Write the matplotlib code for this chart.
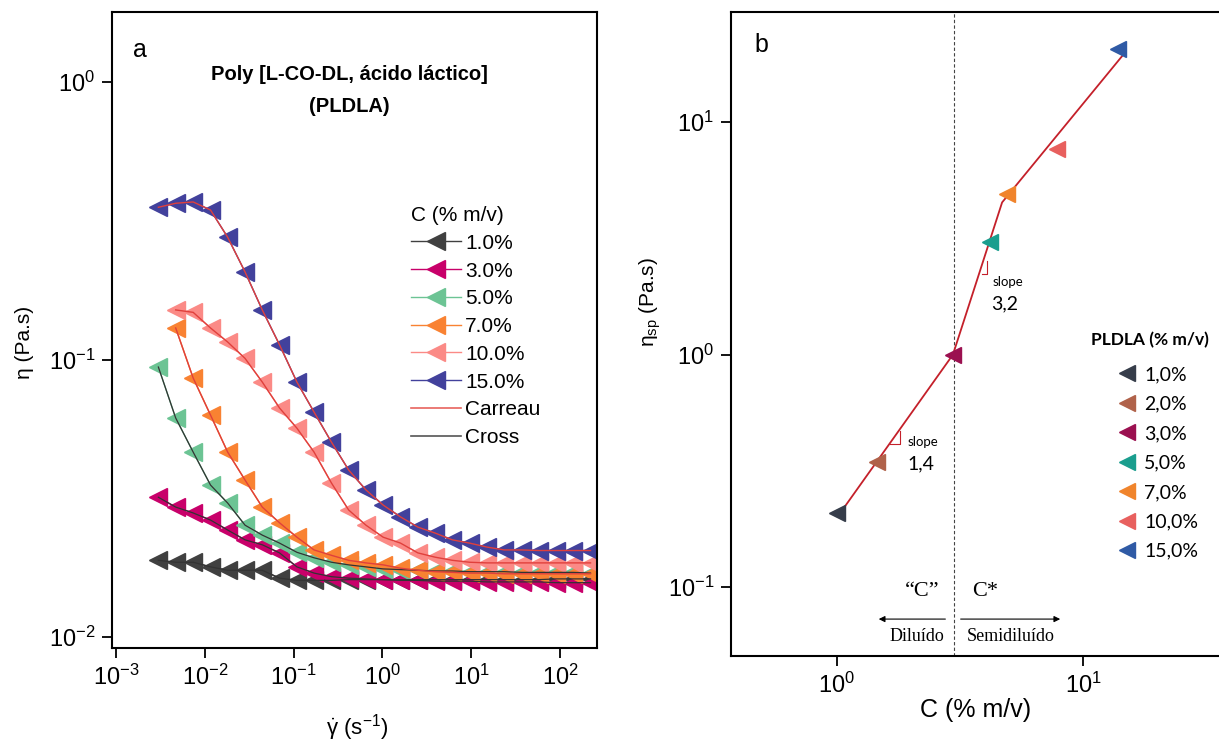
import matplotlib.pyplot as plt
from matplotlib.lines import Line2D

plt.rcParams['font.family'] = ['Liberation Sans', 'DejaVu Sans']
plt.rcParams['mathtext.fontset'] = 'custom'
plt.rcParams['mathtext.rm'] = 'Liberation Sans'
plt.rcParams['mathtext.it'] = 'Liberation Sans:italic'
plt.rcParams['mathtext.bf'] = 'Liberation Sans:bold'
plt.rcParams['mathtext.default'] = 'regular'
plt.rcParams['axes.unicode_minus'] = False

# --- (a) flow curves: viscosity vs shear rate ---
shear = [0.003, 0.0047, 0.0074, 0.0116, 0.0181, 0.0284, 0.0444, 0.0695, 0.109,
         0.170, 0.267, 0.417, 0.653, 1.02, 1.60, 2.51, 3.92, 6.14, 9.61, 15.0,
         23.6, 36.9, 57.7, 90.3, 141, 221]

eta_1 = [0.0189, 0.0186, 0.0186, 0.0179, 0.0174, 0.0174, 0.0174, 0.0163, 0.0160,
         0.0160, 0.0160, 0.0161, 0.0161, 0.0161, 0.0161, 0.0161, 0.0161, 0.0161,
         0.0161, 0.0161, 0.0161, 0.0161, 0.0161, 0.0162, 0.0162, 0.0162]
eta_3 = [0.0319, 0.0294, 0.0280, 0.0264, 0.0243, 0.0224, 0.0215, 0.0201, 0.0179,
         0.0170, 0.0165, 0.0163, 0.0162, 0.0161, 0.0160, 0.0160, 0.0159, 0.0159,
         0.0159, 0.0158, 0.0158, 0.0158, 0.0158, 0.0157, 0.0157, 0.0157]
eta_5 = [0.094, 0.0616, 0.0464, 0.0353, 0.0304, 0.0253, 0.0233, 0.0218, 0.0202,
         0.0193, 0.0186, 0.0182, 0.0179, 0.0176, 0.0175, 0.0174, 0.0173, 0.0173,
         0.0172, 0.0172, 0.0172, 0.0171, 0.0171, 0.0171, 0.0171, 0.0170]
# 7% and 10% start at the second shear rate
eta_7 = [0.130, 0.0858, 0.0631, 0.0464, 0.0368, 0.0294, 0.0258, 0.0229, 0.0206,
         0.0197, 0.0189, 0.0185, 0.0182, 0.0177, 0.0174, 0.0172, 0.0171, 0.0170,
         0.0170, 0.0169, 0.0169, 0.0169, 0.0169, 0.0169, 0.0169]
eta_10 = [0.151, 0.148, 0.130, 0.1157, 0.101, 0.0830, 0.0669, 0.0566, 0.0464,
          0.0359, 0.0287, 0.0253, 0.0229, 0.0218, 0.0201, 0.0194, 0.0189, 0.0186,
          0.0185, 0.0185, 0.0185, 0.0185, 0.0185, 0.0185, 0.0185]
eta_15 = [0.354, 0.366, 0.370, 0.346, 0.276, 0.207, 0.151, 0.113, 0.0830, 0.0647,
          0.0504, 0.0400, 0.0339, 0.0299, 0.0271, 0.0249, 0.0237, 0.0224, 0.0218,
          0.0211, 0.0206, 0.0206, 0.0205, 0.0205, 0.0205, 0.0205]

labels_a = ['1.0%', '3.0%', '5.0%', '7.0%', '10.0%', '15.0%']
colors_a = ['#404040', '#c8006a', '#6cc494', '#f98232', '#fb8a86', '#42419c']

# --- (b) specific viscosity vs concentration ---
conc = [1.0, 1.45, 2.96, 4.19, 4.91, 7.84, 13.9]
eta_sp = [0.208, 0.346, 1.0, 3.04, 4.9, 7.65, 20.6]
labels_b = ['1,0%', '2,0%', '3,0%', '5,0%', '7,0%', '10,0%', '15,0%']
colors_b = ['#363d4a', '#b0624a', '#9b1050', '#1a9e8e', '#f0842c', '#e8605e', '#2f5aa5']

# power-law segments through the points
fit_c = [1.01, 2.96, 4.69, 14.5]
fit_eta = [0.202, 1.0, 4.52, 19.4]
c_star = 2.99

fig = plt.figure(figsize=(12.19, 7.51), dpi=100)
ax1 = fig.add_axes([0.0919, 0.137, 0.3978, 0.847])
ax2 = fig.add_axes([0.5997, 0.1265, 0.4003, 0.8575])

# panel a
series = [(shear, eta_1), (shear, eta_3), (shear, eta_5),
          (shear[1:], eta_7), (shear[1:], eta_10), (shear, eta_15)]
handles = []
for (x, y), c, lab in zip(series, colors_a, labels_a):
    h, = ax1.plot(x, y, '-', marker='<', color=c, lw=1.0, ms=12.5, mec=c, label=lab)
    handles.append(h)
for i, (x, y) in enumerate(series):
    if i < 3:
        ax1.plot(x, y, '-', color='#333333', lw=0.9, zorder=5)
    else:
        ax1.plot(x, y, '-', color='#e0403c', lw=1.0, zorder=5)
handles.append(Line2D([], [], color='#e8645e', lw=1.2))
handles.append(Line2D([], [], color='#555555', lw=1.2))
ax1.legend(handles, labels_a + ['Carreau', 'Cross'], title='C (% m/v)',
           loc='upper left', bbox_to_anchor=(0.616, 0.695), frameon=False,
           fontsize=15, title_fontsize=15, handlelength=2.4, handletextpad=0.2,
           labelspacing=0.42, borderpad=0, borderaxespad=0, alignment='left')

ax1.set_xscale('log')
ax1.set_yscale('log')
ax1.set_xlim(0.000902, 261)
ax1.set_ylim(0.00912, 1.79)
ax1.set_xticks([1e-3, 1e-2, 1e-1, 1e0, 1e1, 1e2])
ax1.set_yticks([1e-2, 1e-1, 1e0])
ax1.minorticks_off()
ax1.set_xlabel(r'$\dot{\gamma}$ (s$^{-1}$)', fontsize=16)
ax1.xaxis.set_label_coords(0.505, -0.1)
ax1.set_ylabel('η (Pa.s)', fontsize=15)
ax1.yaxis.set_label_coords(-0.16, 0.48)
ax1.text(0.043, 0.94, 'a', transform=ax1.transAxes, fontsize=18, va='center')
ax1.text(0.489, 0.901, 'Poly [L-CO-DL, ácido láctico]', transform=ax1.transAxes,
         fontsize=14.5, fontweight='bold', ha='center', va='center')
ax1.text(0.489, 0.851, '(PLDLA)', transform=ax1.transAxes,
         fontsize=14.5, fontweight='bold', ha='center', va='center')

# panel b
ax2.plot(fit_c, fit_eta, '-', color='#c4202a', lw=1.3, zorder=2)
for c, e, col in zip(conc, eta_sp, colors_b):
    ax2.plot([c], [e], ls='none', marker='<', color=col, ms=12, zorder=3)
ax2.axvline(c_star, color='#444444', lw=0.8, ls=(0, (3, 2)), zorder=1)

# slope markers
ax2.plot([1.64, 1.80, 1.80], [0.413, 0.413, 0.47], color='#c4202a', lw=0.8)
ax2.plot([3.88, 4.07, 4.07], [2.23, 2.23, 2.54], color='#c4202a', lw=0.8)
ax2.text(2.24, 0.422, 'slope', fontsize=9.5, family='Lato', ha='center', va='center')
ax2.text(2.19, 0.339, '1,4', fontsize=14, family='Lato', ha='center', va='center')
ax2.text(4.96, 2.06, 'slope', fontsize=9.5, family='Lato', ha='center', va='center')
ax2.text(4.82, 1.66, '3,2', fontsize=14, family='Lato', ha='center', va='center')

# dilute / semidilute regions
ax2.text(2.22, 0.0961, '“C”', fontsize=16, family='Liberation Serif', ha='center', va='center')
ax2.text(4.0, 0.0961, 'C*', fontsize=16, family='Liberation Serif', ha='center', va='center')
ax2.annotate('', xy=(1.44, 0.0728), xytext=(2.83, 0.0728),
             arrowprops=dict(arrowstyle='-|>', lw=0.8, color='k', mutation_scale=9))
ax2.annotate('', xy=(8.29, 0.0728), xytext=(3.10, 0.0728),
             arrowprops=dict(arrowstyle='-|>', lw=0.8, color='k', mutation_scale=9))
ax2.text(2.11, 0.0615, 'Diluído', fontsize=13, family='Liberation Serif', ha='center', va='center')
ax2.text(5.1, 0.0615, 'Semidiluído', fontsize=13, family='Liberation Serif', ha='center', va='center')

leg_handles = [Line2D([], [], ls='none', marker='<', color=c, ms=12) for c in colors_b]
ax2.legend(leg_handles, labels_b, loc='upper left', bbox_to_anchor=(0.791, 0.450),
           frameon=False, prop={'family': 'Lato', 'size': 14}, handlelength=1.0,
           handletextpad=0.4, labelspacing=0.64, borderpad=0, borderaxespad=0)
ax2.text(0.738, 0.491, 'PLDLA (% m/v)', transform=ax2.transAxes, family='Lato',
         fontweight='bold', fontsize=12.5, va='center')

ax2.set_xscale('log')
ax2.set_yscale('log')
ax2.set_xlim(0.371, 35.7)
ax2.set_ylim(0.0505, 29.8)
ax2.set_xticks([1, 10])
ax2.set_yticks([0.1, 1, 10])
ax2.minorticks_off()
ax2.spines['right'].set_visible(False)
ax2.set_xlabel('C (% m/v)', fontsize=18)
ax2.xaxis.set_label_coords(0.502, -0.065)
ax2.set_ylabel(r'$\eta_{sp}$ (Pa.s)', fontsize=15)
ax2.yaxis.set_label_coords(-0.139, 0.55)
ax2.text(0.049, 0.949, 'b', transform=ax2.transAxes, fontsize=18, va='center')

for ax in (ax1, ax2):
    for s in ax.spines.values():
        s.set_linewidth(1.5)
    ax.tick_params(direction='out', length=7, width=1.3, labelsize=17, pad=5)

fig.savefig('out.png', dpi=100)
